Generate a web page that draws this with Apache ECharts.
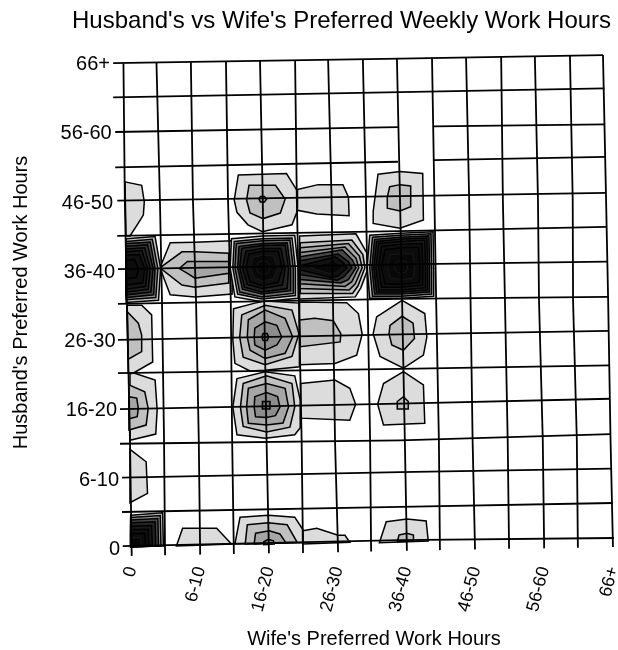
<!DOCTYPE html>
<html><head><meta charset="utf-8">
<style>html,body{margin:0;padding:0;background:#fff}#c{width:618px;height:650px}</style>
<script src="https://cdn.jsdelivr.net/npm/echarts@6/dist/echarts.min.js"></script>
</head><body><div id="c"></div>
<script>
const chartTitle = "Husband's vs Wife's Preferred Weekly Work Hours";
const xName = "Wife's Preferred Work Hours";
const yName = "Husband's Preferred Work Hours";
const tickLabels = ['0','6-10','16-20','26-30','36-40','46-50','56-60','66+'];

// Warped mesh, read in hours: each column is x at five heights.
const columnX = [
 [-1.2,-1.0,-0.7,-0.25,0],[3.6,4.1,4.4,4.7,4.85],[8.6,8.9,9.35,9.75,9.95],[13.7,14,14.4,14.6,14.85],
 [18.65,19.05,19.25,19.6,19.95],[23.75,24,24.3,24.7,24.9],[28.55,29.05,29.25,29.55,30],[33.6,34.05,34.3,34.65,34.8],
 [38.55,39,39.3,39.7,40],[43.65,44,44.25,44.65,44.8],[48.6,49.05,49.25,49.55,49.9],[53.7,53.95,54.25,54.65,54.85],
 [58.6,59.05,59.2,59.75,59.95],[63.7,64.1,64.15,64.7,64.85],[68.5,68.95,69.25,69.6,69.95]
];
const columnTopY = [69.8,69.9,70,70.1,70.15,70.25,70.3,70.4,70.5,70.6,70.65,70.75,70.85,70.9,71];
const columnBottomY = [-1.3,-1.2,-1.1,-1,-0.9,-0.85,-0.75,-0.65,-0.55,-0.45,-0.35,-0.25,-0.2,-0.1,0];
const columnMidY = [50.1,35.6,15.4];
const meshRows = [
 [[-2.7,69.85],[39,70.5],[68.5,71]],
 [[-2.7,64.9],[39,65.65],[68.7,66.2]],
 [[-2.4,59.9],[38.7,60.6]],
 [[43.9,60.7],[68.8,61]],
 [[-2.4,54.8],[38.7,55.6]],
 [[43.9,55.85],[68.9,56.3]],
 [[-2.1,50],[39,50.65],[68.95,51.1]],
 [[-2.1,44.9],[39,45.6],[69,46.2]],
 [[-2,40.1],[39,40.8],[69.1,41.2]],
 [[-2,35.1],[39,35.8],[69.2,36.1]],
 [[-2,29.9],[39,30.7],[69.3,31.2]],
 [[-2,25.1],[39,25.7],[69.4,26.2]],
 [[-1.7,19.9],[39,20.7],[69.5,21.4]],
 [[-1.7,14.9],[39,15.4],[69.6,16.3]],
 [[-1.4,10],[39,10.8],[69.7,11.3]],
 [[-1.4,5.05],[39,5.8],[69.9,6.35]],
 [[-1.3,0.14],[39,1],[70.1,1.3]]
];

// Contours: [level, outline in hours], outermost first.
const wifeZeroContours = [
 [1,[[-0.97,52.7],[1.45,52.2],[1.83,49.8],[1.69,47.9],[0.96,46.75],[-0.25,44.9],[-0.83,44.9]]],
 [1,[[-0.7,34.9],[1.45,34.9],[2.9,33.5],[3.05,26.7],[0.33,25.15],[-0.5,25.1]]],
 [2,[[-0.64,33.95],[0.96,32.3],[1.45,30.6],[1.45,28.2],[-0.5,27.1]]],
 [1,[[-0.25,25],[0.33,25.1],[3.4,24.1],[3.7,19.8],[3.5,16.3],[-0.25,15.4]]],
 [2,[[-0.4,23.4],[1.9,22.4],[2.4,20],[2.1,17.6],[-0.4,16.9]]],
 [3,[[-0.4,21.7],[0.73,21.5],[0.96,20],[0.8,18.8],[-0.4,18.5]]],
 [1,[[-0.25,14.1],[2.1,12.3],[2.3,7.75],[-0.25,6.4]]]
];
const row46Contours = [
 [1,[[15.5,53.7],[22.5,53.9],[24,51.5],[24.2,50.1],[24,48.3],[23.3,46.5],[19,45.5],[16.9,46.5],[15.3,48.3],[14.9,50.1]]],
 [2,[[17.05,52.2],[20.9,52.2],[22.3,50.2],[21.6,48.2],[19.1,47.4],[17.2,48.2],[16.7,50.1]]],
 [3,[[18.5,50.2],[18.7,50.6],[19.3,50.6],[19.6,50.2],[19.3,49.8],[18.7,49.8]]],
 [1,[[24.1,51.6],[27.1,52.3],[30.7,52.3],[31.5,50.5],[31.6,47.8],[26.9,48.05],[24.1,48.6]]],
 [1,[[35.8,53.8],[39,54.2],[42.3,53.9],[42.4,47.2],[39,46],[35.1,46.7],[35.1,48.4]]],
 [2,[[37.5,52],[39,52.3],[40.55,52.1],[40.55,49.1],[39,48.5],[37.15,48.9],[37.15,50.5]]]
];
const row36BandContours = [
 [1,[[4.1,40.3],[5.6,43.9],[9.2,44],[14.6,44.2],[14.6,36.5],[9.2,36.1],[5.6,36.4]]],
 [2,[[4.1,40.3],[7.3,42.6],[9.2,42.6],[14.1,42.4],[14.1,38.1],[9.2,37.5],[7.3,37.8]]],
 [3,[[6.9,40.2],[8.1,41.2],[9.2,41.2],[14.1,41.2],[14.1,39.5],[9.2,38.8],[8.1,39.5]]]
];
const peak0x36Rings = [
 [2,[[-0.8,44.5],[3.4,44.8],[4.2,40.2],[3.9,35.6],[-0.8,35.3]]],
 [4,[[-0.8,44.1],[3,44.4],[3.8,40.2],[3.5,36],[-0.8,35.7]]],
 [6,[[-0.8,43.8],[2.7,44],[3.4,40.2],[3.2,36.4],[-0.8,36]]],
 [7,[[-0.8,43.4],[2.3,43.6],[3.1,40.2],[2.8,36.8],[-0.8,36.4]]],
 [8,[[-0.8,43],[1.9,43.2],[2.7,40.2],[2.4,37.2],[-0.8,36.8]]],
 [9,[[-0.8,42.6],[1.5,42.8],[2.3,40.2],[2,37.6],[-0.8,37.2]]],
 [10,[[-0.8,42.1],[1.1,42.2],[1.9,40.2],[1.6,38.1],[-0.8,37.8]]],
 [11,[[-0.8,41.4],[0.4,41.5],[1,40.2],[0.7,38.9],[-0.8,38.7]]]
];
const peak20x36Rings = [
 [1,[[14.3,40.3],[14.5,44.5],[19,44.9],[23.7,45],[24.2,40.1],[24.2,35.9],[18.9,35.4],[15,36.1]]],
 [3,[[14.7,40.3],[14.9,44.1],[19,44.5],[23.3,44.6],[23.8,40.1],[23.8,36.3],[18.9,35.8],[15.4,36.5]]],
 [5,[[15,40.3],[15.2,43.8],[19,44.2],[23,44.3],[23.5,40.1],[23.5,36.6],[18.9,36.1],[15.7,36.8]]],
 [7,[[15.4,40.3],[15.6,43.4],[19,43.8],[22.6,43.9],[23.1,40.1],[23.1,37],[18.9,36.5],[16.1,37.2]]],
 [8,[[15.7,40.3],[16,43.1],[19,43.5],[22.3,43.6],[22.8,40.1],[22.6,37.3],[18.9,36.8],[16.4,37.5]]],
 [9,[[16.1,40.3],[16.6,42.7],[19,43.1],[21.7,43.1],[22.3,40.1],[21.9,37.8],[19,37.3],[16.8,37.9]]],
 [10,[[16.6,40.3],[17,42.3],[19,42.7],[21.3,42.7],[21.9,40.2],[21.3,38.2],[19,37.7],[17.2,38.3]]],
 [12,[[17.3,40.3],[17.6,41.8],[19,42.1],[20.6,42],[21.2,40.2],[20.6,38.7],[19,38.4],[17.8,38.9]]],
 [13,[[18.1,40.3],[18.4,41.1],[19,41.3],[19.8,41.2],[20.1,40.3],[19.8,39.5],[19,39.3],[18.4,39.6]]]
];
const peak30x36Rings = [
 [1,[[24.4,44.9],[32.6,45.2],[34.2,42.4],[34.4,40.3],[33.3,37.4],[32.5,36.1],[24.4,35.8]]],
 [2,[[24.5,43.9],[32,44.3],[33.6,42.2],[33.9,40.3],[32.9,37.7],[32.1,36.6],[24.5,36.6]]],
 [3,[[24.5,43.2],[31.5,43.8],[33.1,42],[33.5,40.3],[32.5,38],[31.6,37.1],[24.5,37.3]]],
 [4,[[24.5,42.5],[31,43.3],[32.6,41.7],[33,40.3],[32,38.3],[31,37.6],[24.5,38]]],
 [6,[[24.5,41.9],[30.6,42.9],[32.1,41.4],[32.6,40.3],[31.5,38.6],[30.4,38.1],[24.5,38.6]]],
 [8,[[24.5,41.3],[30,42.3],[31.5,41.2],[32,40.3],[30.8,39],[29.9,38.5],[24.5,39.3]]],
 [10,[[24.5,40.6],[29.6,41.9],[30.8,41],[31.3,40.3],[30,39.1],[29,38.9],[24.5,40]]],
 [12,[[26,40.3],[29.3,41.4],[30.3,40.8],[30.6,40.3],[29.7,39.6],[29,39.4]]]
];
const peak40x36Rings = [
 [2,[[34.2,40.3],[34.6,45],[39.1,45.3],[43.8,45.5],[43.9,40.4],[43.9,36.2],[39.2,35.9],[34.6,35.9]]],
 [4,[[34.6,40.3],[35,44.7],[39.1,45],[43.5,45.2],[43.6,40.4],[43.6,36.5],[39.2,36.2],[35,36.2]]],
 [7,[[34.9,40.3],[35.3,44.4],[39.1,44.7],[43.2,44.9],[43.3,40.4],[43.3,36.8],[39.2,36.5],[35.3,36.5]]],
 [8,[[35.2,40.3],[35.6,44.1],[39.1,44.4],[42.9,44.6],[43,40.4],[43,37.1],[39.2,36.8],[35.6,36.8]]],
 [9,[[35.5,40.3],[35.9,43.8],[39.1,44.1],[42.6,44.3],[42.7,40.4],[42.7,37.4],[39.2,37.1],[35.9,37.1]]],
 [10,[[35.9,40.3],[36.3,43.4],[39.1,43.7],[42.2,43.8],[42.3,40.4],[42.3,37.8],[39.2,37.5],[36.3,37.5]]],
 [11,[[36.3,40.3],[36.8,42.9],[39.1,43.2],[41.7,43.3],[41.9,40.4],[41.8,38.2],[39.2,37.9],[36.8,38]]],
 [12,[[37.2,40.3],[37.6,42.2],[39.1,42.3],[40.9,42.3],[41.1,40.4],[40.9,38.8],[39.2,38.6],[37.6,38.8]]],
 [13,[[38.1,40.4],[38.5,41.2],[39.1,41.3],[39.9,41.2],[40.1,40.4],[39.9,39.7],[39.1,39.5],[38.5,39.7]]]
];
const row26Contours = [
 [1,[[14.8,34.4],[17.9,35.2],[19.4,35.5],[24.4,35.2],[24.4,26],[19.4,25.5],[17.2,25.4],[15,26.5],[14.7,29.9]]],
 [2,[[16,33.5],[19.4,34.9],[23.3,34.2],[24.3,30.8],[23.3,27.5],[19.4,26.3],[16.2,27.4],[15.7,30.3]]],
 [3,[[16.95,32.8],[19.4,34.2],[22.3,33],[23.4,30.3],[22.3,27.95],[19.4,27.2],[17.2,28.4],[16.8,30.3]]],
 [4,[[17.9,31.6],[19.4,32.5],[21.1,32],[21.8,30.3],[21.1,29.15],[19.4,28.4],[17.9,29.15],[17.8,30.3]]],
 [5,[[18.9,30.3],[19.1,30.8],[19.7,30.8],[19.9,30.3],[19.7,29.8],[19.1,29.8]]],
 [1,[[24.4,35.35],[31.25,35.25],[32.95,33.7],[33.5,30.7],[32.7,27.7],[29.55,26.5],[24.4,26.3]]],
 [2,[[24.4,32.75],[26.6,33],[29.3,32.65],[30.4,30.8],[30.3,29.6],[24.5,28.9]]],
 [1,[[35.6,33.2],[39.3,35.6],[42.6,33.7],[42.9,30.3],[42.4,27.7],[39.5,25.8],[36.1,27.5],[35.1,30.8]]],
 [2,[[37.55,32],[39.3,33.3],[40.9,32.3],[41.1,30.1],[39.5,28.4],[37.8,29.15],[37.4,30.8]]]
];
const row16Contours = [
 [1,[[15.3,24.3],[19.4,25.3],[23.7,24.7],[24.5,21.2],[24.5,17.2],[23.7,16.2],[19.4,15.7],[15.3,16.2],[14.7,20.2]]],
 [2,[[16.2,23.6],[19.6,24.7],[23.3,23.6],[23.7,20.2],[23,17.3],[19.6,16.6],[16.2,17.4],[15.8,20.2]]],
 [3,[[16.95,22.9],[19.6,23.6],[22.3,22.9],[22.8,20.2],[22,17.9],[19.6,17.6],[16.95,17.85],[16.7,20.2]]],
 [4,[[17.9,21.7],[19.6,22.3],[21.2,21.7],[21.55,20.2],[20.9,18.95],[19.6,18.7],[18,18.8],[17.8,20.2]]],
 [5,[[19,21],[20.1,21],[20.1,19.9],[19,19.9]]],
 [1,[[24.55,23.6],[29.55,24.1],[31.7,22.9],[32.55,20.6],[31.7,18.3],[24.55,18.6]]],
 [1,[[39.5,25.3],[42.4,23.4],[42.6,17.85],[36.6,17.6],[35.75,20.6],[36.6,23.6]]],
 [2,[[38.6,21],[39.5,21.7],[40.2,21],[40.2,19.9],[38.6,19.9]]]
];
const row0Contours = [
 [2,[[-0.15,4.6],[4.5,4.95],[4.6,0.14],[-0.15,0.04]]],
 [4,[[-0.15,4.25],[4.15,4.55],[4.25,0.14],[-0.15,0.04]]],
 [6,[[-0.15,3.9],[3.8,4.1],[3.9,0.14],[-0.15,0.04]]],
 [8,[[-0.15,3.5],[3.4,3.65],[3.5,0.14],[-0.15,0.04]]],
 [9,[[-0.15,3],[2.9,3.1],[3,0.14],[-0.15,0.04]]],
 [10,[[-0.15,2.5],[2.4,2.55],[2.5,0.14],[-0.15,0.04]]],
 [11,[[-0.15,1.9],[1.9,2],[2,0.14],[-0.15,0.04]]],
 [12,[[-0.15,1.3],[1.3,1.4],[1.4,0.14],[-0.15,0.04]]],
 [1,[[7.4,2.7],[12.35,2.7],[14.5,0.43],[6.5,0.14]]],
 [1,[[15.75,4.3],[19.85,4.6],[23.7,4.3],[24.85,2.55],[24.85,0.6],[15,0.43]]],
 [2,[[16.8,3.2],[19.85,3.5],[22.6,3.2],[24.05,0.68],[16.5,0.43]]],
 [3,[[18,1.98],[20,2.35],[21.55,1.88],[22.4,0.62],[17.8,0.43]]],
 [4,[[19.2,0.76],[19.85,1.1],[20.6,0.9],[20.7,0.43],[19.2,0.33]]],
 [1,[[24.9,2.35],[26.9,2.7],[30,1.7],[31,1.7],[31.7,0.68],[24.9,0.43]]],
 [1,[[37,3.65],[40,4.05],[42.8,3.75],[43.1,0.87],[36,0.62]]],
 [2,[[38.85,1.73],[40,1.98],[40.95,1.73],[40.95,0.87],[38.6,0.76]]]
];
const levelFill = ['#ffffff','#dcdcdc','#c0c0c0','#a6a6a6','#8c8c8c','#707070','#484848','#333333','#242424','#181818','#101010','#0c0c0c','#080808','#080808'];
const yLabelInsetRight = [0.7,1.7,3.7,5.2,5.7,7.7,9,10.7];

const contours = [].concat(wifeZeroContours,row46Contours,row36BandContours,peak0x36Rings,
  peak20x36Rings,peak30x36Rings,peak40x36Rings,row26Contours,row16Contours,row0Contours);

const meshColumns = columnX.map((xs,i)=>{
  const ys=[columnTopY[i],columnMidY[0],columnMidY[1],columnMidY[2],columnBottomY[i]];
  return xs.map((x,j)=>[x,ys[j]]);
});
const meshLines = meshColumns.concat(meshRows);

const font = 'Liberation Sans';
const yRich = {};
yLabelInsetRight.forEach((r,i)=>{
  yRich['r'+i] = {fontFamily:font,fontSize:20,color:'#000',padding:[5,r,0,0]};
});

const chart = echarts.init(document.getElementById('c'),null,{renderer:'canvas'});
chart.setOption({
  animation:false,
  backgroundColor:'#fff',
  textStyle:{fontFamily:font},
  title:{text:chartTitle,left:67,top:4,textStyle:{fontFamily:font,fontSize:24,fontWeight:'normal',color:'#000'}},
  grid:{left:131.7,top:62,width:481.6,height:485,outerBoundsMode:'none',containLabel:false},
  xAxis:{type:'value',min:0,max:70,interval:10,name:xName,nameLocation:'middle',nameGap:82,
    nameTextStyle:{fontFamily:font,fontSize:20,color:'#000',padding:[0,0,0,3]},
    axisLine:{show:false},axisTick:{show:false},splitLine:{show:false},
    axisLabel:{rotate:75,margin:20,fontFamily:font,fontSize:18,color:'#000',showMinLabel:true,showMaxLabel:true,hideOverlap:false,
      formatter:v=>tickLabels[v/10]}},
  yAxis:{type:'value',min:0,max:70,interval:10,name:yName,nameLocation:'middle',nameGap:100,nameRotate:90,
    nameTextStyle:{fontFamily:font,fontSize:20,color:'#000',padding:[0,0,0,4]},
    axisLine:{show:false},axisTick:{show:false},splitLine:{show:false},
    axisLabel:{margin:11,fontFamily:font,fontSize:20,color:'#000',showMinLabel:true,showMaxLabel:true,hideOverlap:false,
      rich:yRich,formatter:v=>'{r'+(v/10)+'|'+tickLabels[v/10]+'}'}},
  series:[{
    type:'custom',silent:true,z:2,clip:false,animation:false,
    data:contours.map(c=>c[1][0]),
    encode:{x:0,y:1},
    renderItem:(params,api)=>{
      const c=contours[params.dataIndex];
      const inner=c[0]>=12;
      return {type:'polygon',shape:{points:c[1].map(p=>api.coord(p))},
        style:{fill:levelFill[c[0]],stroke:inner?'#1c1c1c':'#000',lineWidth:inner?0.8:1.5}};
    }
  },{
    type:'custom',silent:true,z:5,clip:false,animation:false,
    data:meshLines.map(l=>l[0]),
    encode:{x:0,y:1},
    renderItem:(params,api)=>({type:'polyline',
      shape:{points:meshLines[params.dataIndex].map(p=>api.coord(p))},
      style:{fill:null,stroke:'#000',lineWidth:1.8}})
  }]
});
</script></body></html>
